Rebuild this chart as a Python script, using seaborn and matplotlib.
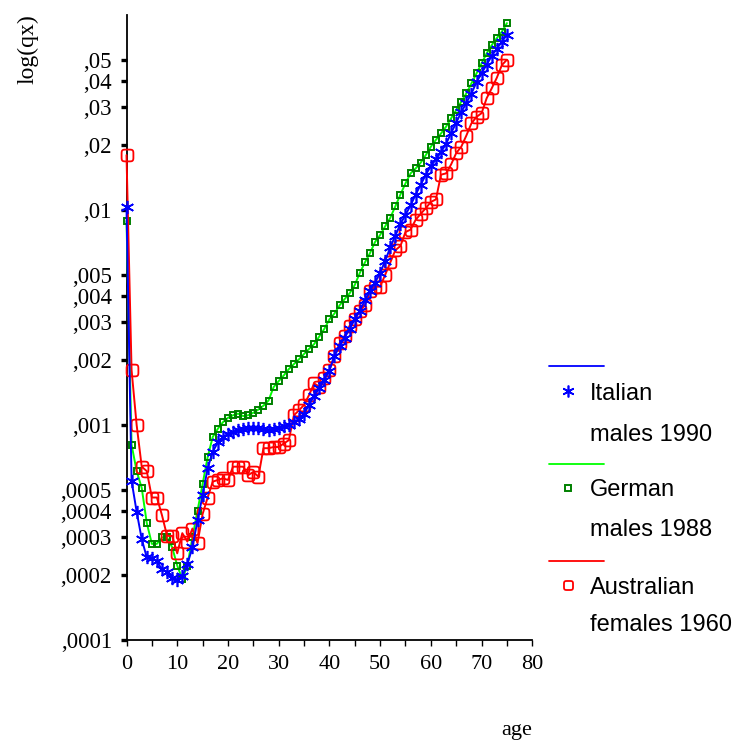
import numpy as np
import matplotlib
matplotlib.use("Agg")
import matplotlib.pyplot as plt
import matplotlib.path as mpath
from matplotlib.lines import Line2D
from matplotlib.ticker import FixedLocator, FixedFormatter, MultipleLocator, NullLocator
import seaborn as sns

# ---------------- data ----------------
ages = list(range(0, 76))

italian_males_1990 = [
    0.0103, 0.00055, 0.000395, 0.000295, 0.000242, 0.00024, 0.000232, 0.000213, 0.000207, 0.000195,
    0.00019, 0.000198, 0.000225, 0.00027, 0.00036, 0.00047, 0.00063, 0.00075, 0.00083, 0.00088,
    0.00091, 0.00093, 0.00095, 0.00096, 0.00097, 0.00097, 0.00097, 0.00096, 0.00095, 0.00096,
    0.00097, 0.00099, 0.001, 0.00103, 0.00107, 0.00113, 0.00124, 0.00137, 0.00148, 0.00162,
    0.00179, 0.0021, 0.00232, 0.00255, 0.0028, 0.0031, 0.0034, 0.0038, 0.0042, 0.0046,
    0.0051, 0.0058, 0.0067, 0.0076, 0.0086, 0.0095, 0.0105, 0.0118, 0.0131, 0.0146,
    0.016, 0.0172, 0.0186, 0.0203, 0.0228, 0.0255, 0.0285, 0.0315, 0.0348, 0.0393,
    0.0432, 0.0475, 0.052, 0.0563, 0.0605, 0.0655,
]

german_males_1988 = [
    0.0089, 0.00081, 0.00061, 0.00051, 0.00035, 0.00028, 0.00028, 0.0003, 0.0003, 0.00027,
    0.000222, 0.000192, 0.000222, 0.0003, 0.0004, 0.00053, 0.00071, 0.00088, 0.00096, 0.00103,
    0.00108, 0.00111, 0.00113, 0.0011, 0.00111, 0.00114, 0.00118, 0.00123, 0.0013, 0.0015,
    0.0016, 0.0017, 0.00182, 0.00192, 0.00202, 0.00214, 0.00226, 0.00238, 0.00258, 0.0028,
    0.0031, 0.0033, 0.0036, 0.00385, 0.0041, 0.00448, 0.0051, 0.0057, 0.0063, 0.0071,
    0.00765, 0.0084, 0.0092, 0.0104, 0.0118, 0.0133, 0.0148, 0.0156, 0.0166, 0.018,
    0.0197, 0.0212, 0.0227, 0.0244, 0.0267, 0.0292, 0.0319, 0.0349, 0.0388, 0.0432,
    0.0481, 0.0535, 0.0585, 0.063, 0.0675, 0.074,
]

australian_females_1960 = [
    0.018, 0.0018, 0.001, 0.00064, 0.00061, 0.00046, 0.00046, 0.00038, 0.000305, 0.000305,
    0.000253, 0.000314, 0.000287, 0.00033, 0.000282, 0.000385, 0.00046, 0.000545, 0.000555, 0.000565,
    0.000555, 0.00064, 0.00064, 0.00064, 0.000585, 0.000605, 0.000575, 0.00078, 0.00078, 0.00079,
    0.00079, 0.00082, 0.00085, 0.00111, 0.00117, 0.00124, 0.00138, 0.00156, 0.00151, 0.00165,
    0.0018, 0.0021, 0.0024, 0.0026, 0.0029, 0.0031, 0.0034, 0.0036, 0.0042, 0.0044,
    0.0044, 0.005, 0.0057, 0.0065, 0.0068, 0.0079, 0.0081, 0.009, 0.0096, 0.0102,
    0.0109, 0.0112, 0.0146, 0.0148, 0.0163, 0.0184, 0.0197, 0.0222, 0.0253, 0.0271,
    0.0282, 0.0331, 0.0368, 0.0412, 0.0472, 0.05,
]

legend_line1 = ["Italian", "German", "Australian"]
legend_line2 = ["males 1990", "males 1988", "females 1960"]

ytick_values = [0.0001, 0.0002, 0.0003, 0.0004, 0.0005, 0.001, 0.002, 0.003, 0.004, 0.005,
                0.01, 0.02, 0.03, 0.04, 0.05]
ytick_labels = [",0001", ",0002", ",0003", ",0004", ",0005", ",001", ",002", ",003", ",004", ",005",
                ",01", ",02", ",03", ",04", ",05"]
xtick_values = [0, 10, 20, 30, 40, 50, 60, 70, 80]
xtick_labels = ["0", "10", "20", "30", "40", "50", "60", "70", "80"]

# ---------------- style ----------------
sns.set_style("ticks")
plt.rcParams["font.family"] = ["Liberation Serif", "DejaVu Serif"]
plt.rcParams["axes.edgecolor"] = "black"
plt.rcParams["text.color"] = "black"
plt.rcParams["axes.labelcolor"] = "black"
plt.rcParams["xtick.color"] = "black"
plt.rcParams["ytick.color"] = "black"
plt.rcParams["xtick.labelcolor"] = "black"
plt.rcParams["ytick.labelcolor"] = "black"

W, H = 733, 740
fig = plt.figure(figsize=(W / 100, H / 100), dpi=100)
ax_left, ax_right, ax_top, ax_bottom = 126.5, 532.3, 15, 640
ax = fig.add_axes([ax_left / W, 1 - ax_bottom / H, (ax_right - ax_left) / W, (ax_bottom - ax_top) / H])

# rounded-square marker (superellipse)
t = np.linspace(0, 2 * np.pi, 64)
n = 5.0
sx = np.sign(np.cos(t)) * np.abs(np.cos(t)) ** (2 / n)
sy = np.sign(np.sin(t)) * np.abs(np.sin(t)) ** (2 / n)
rsq = mpath.Path(np.column_stack([sx, sy]), closed=True)
asterisk = (6, 2, 0)

styles = [
    dict(y=german_males_1988, color="#00ff00", marker="s", mec="#008000", ms=4.3, mew=1.4, zorder=3),
    dict(y=australian_females_1960, color="#ff0000", marker=rsq, mec="#ff0000", ms=8.5, mew=1.3, zorder=4),
    dict(y=italian_males_1990, color="#0000ff", marker=asterisk, mec="#0000ff", ms=9.5, mew=1.2, zorder=5),
]

for s in styles:
    sns.lineplot(x=ages, y=s["y"], ax=ax, color=s["color"], linewidth=1.4,
                 marker=s["marker"], markersize=s["ms"], markeredgecolor=s["mec"],
                 markerfacecolor="none", markeredgewidth=s["mew"], clip_on=False,
                 zorder=s["zorder"], legend=False, estimator=None)

ax.set_yscale("log")
ax.set_xlim(0, 80)
ax.set_ylim(0.0001, 10 ** (-4 + (ax_bottom - ax_top) / 215.0))

ax.yaxis.set_major_locator(FixedLocator(ytick_values))
ax.yaxis.set_major_formatter(FixedFormatter(ytick_labels))
ax.yaxis.set_minor_locator(NullLocator())
ax.xaxis.set_major_locator(FixedLocator(xtick_values))
ax.xaxis.set_major_formatter(FixedFormatter(xtick_labels))
ax.xaxis.set_minor_locator(MultipleLocator(5))

ax.tick_params(axis="y", which="major", direction="out", length=4.5, width=2.4, pad=6, labelsize=16.5)
ax.tick_params(axis="x", which="major", direction="out", length=4.5, width=1.0, pad=6, labelsize=16)
ax.tick_params(axis="x", which="minor", direction="out", length=4.5, width=1.0)
for sp in ["top", "right"]:
    ax.spines[sp].set_visible(False)
for sp in ["left", "bottom"]:
    ax.spines[sp].set_linewidth(1.3)
    ax.spines[sp].set_color("black")
ax.set_xlabel("")
ax.set_ylabel("")

fig.text(28 / W, 1 - 14 / H, "log(qx)", rotation=90, ha="center", va="top", fontsize=17, color="black")
fig.text(517 / W, 1 - 731 / H, "age", ha="center", va="center", fontsize=16, color="black")

# ---------------- legend (drawn manually) ----------------
leg_line_y = [366, 464, 561]
leg_mark_y = [391, 488, 585]
leg_t1_y = [394, 490, 588]
leg_t2_y = [435, 530, 625]
leg_styles = [styles[2], styles[0], styles[1]]
leg_ms = [8.5, 4.0, 6.5]
for i, s in enumerate(leg_styles):
    fig.add_artist(Line2D([549 / W, 604 / W], [1 - leg_line_y[i] / H] * 2, transform=fig.transFigure,
                          color=s["color"], linewidth=1.3))
    fig.add_artist(Line2D([568 / W], [1 - leg_mark_y[i] / H], transform=fig.transFigure,
                          linestyle="none", marker=s["marker"], markersize=leg_ms[i],
                          markeredgecolor=s["mec"], markerfacecolor="none", markeredgewidth=s["mew"]))
    fig.text(590 / W, 1 - leg_t1_y[i] / H, legend_line1[i], ha="left", va="center", color="black",
             fontsize=17, family=["Liberation Sans", "DejaVu Sans"])
    fig.text(590 / W, 1 - leg_t2_y[i] / H, legend_line2[i], ha="left", va="center", color="black",
             fontsize=17, family=["Liberation Sans", "DejaVu Sans"])

fig.savefig("out.png", dpi=100, facecolor="white")
